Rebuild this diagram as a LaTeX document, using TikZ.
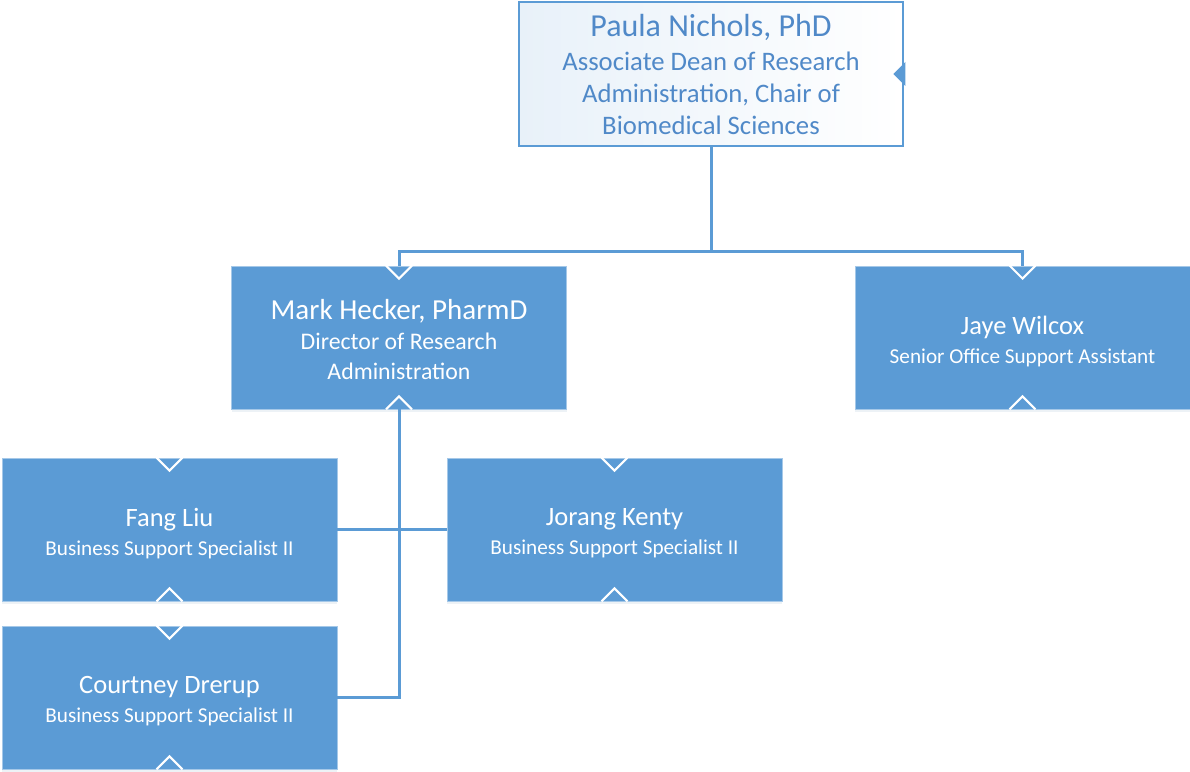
\documentclass[tikz,border=0pt]{standalone}
\usepackage{fontspec}
\setmainfont{Carlito}
\usetikzlibrary{shadows,calc}
\definecolor{cblue}{HTML}{5B9BD5}
\definecolor{ctext}{HTML}{5089C8}
\begin{document}
\begin{tikzpicture}[x=1pt,y=1pt,
  box/.style={draw=cblue!55!white, line width=0.8pt, fill=cblue,
    inner sep=0pt, minimum width=335pt, minimum height=143pt,
    drop shadow={shadow xshift=0pt, shadow yshift=-3pt, opacity=0.12, fill=cblue!60!gray}},
  btext/.style={text=white, align=center, inner sep=0pt,
    font=\fontsize{21.2}{29}\selectfont},
  topbox/.style={draw=cblue, line width=2.5pt, left color=cblue!14!white, right color=white,
    text=ctext, align=center, inner sep=0pt, minimum width=384pt, minimum height=144pt,
    font=\fontsize{26.7}{32}\selectfont},
  conn/.style={draw=cblue, line width=3pt, line join=miter},
  chev/.style={draw=white, line width=2pt, line join=miter},
]
\useasboundingbox (0,0) rectangle (1190,771);

\node[topbox] (top) at (711,697)
  {{\fontsize{32}{32}\selectfont Paula Nichols, PhD}\\[2pt]
   Associate Dean of Research\\
   Administration, Chair of\\ Biomedical Sciences};
\fill[cblue] ($(top.east)+(1,12)$) -- ++(-12,-12) -- ++(12,-12) -- cycle;

\node[box] (mark) at (399,433.5) {};
\node[box] (jaye) at (1022.5,433.5) {};
\node[box] (fang) at (169.5,241.5) {};
\node[box] (jorang) at (614.5,241.5) {};
\node[box] (court) at (169.5,73.5) {};

\node[btext, font=\fontsize{23.8}{29.5}\selectfont] (markT) at ($(mark.center)+(0,-2)$)
  {{\fontsize{29}{30}\selectfont Mark Hecker, PharmD}\\[1pt]
   Director of Research\\ Administration};
\node[btext] (jayeT) at ($(jaye.center)+(0,-4)$)
  {{\fontsize{26.5}{29}\selectfont Jaye Wilcox}\\
   Senior Office Support Assistant};
\node[btext] (fangT) at ($(fang.center)+(0,-4)$)
  {{\fontsize{26.5}{29}\selectfont Fang Liu}\\
   Business Support Specialist II};
\node[btext] (jorangT) at ($(jorang.center)+(0,-4)$)
  {{\fontsize{26.5}{29}\selectfont Jorang Kenty}\\
   Business Support Specialist II};
\node[btext] (courtT) at ($(court.center)+(0,-4)$)
  {{\fontsize{26.5}{29}\selectfont Courtney Drerup}\\
   Business Support Specialist II};

\coordinate (bus) at ($(top.south)+(0,-104)$);
\draw[conn] (top.south) -- (bus);
\draw[conn] (bus) -| (mark.north);
\draw[conn] (bus) -| (jaye.north);
\draw[conn] (mark.south) |- (court.east);
\draw[conn] (fang.east) -- (jorang.west);

\foreach \n in {mark,jaye,fang,jorang,court}{
  \draw[chev] ($(\n.north)+(-13,0)$) -- ++(13,-13) -- ++(13,13);
  \draw[chev] ($(\n.south)+(-13,0)$) -- ++(13,13) -- ++(13,-13);
}
\end{tikzpicture}
\end{document}
